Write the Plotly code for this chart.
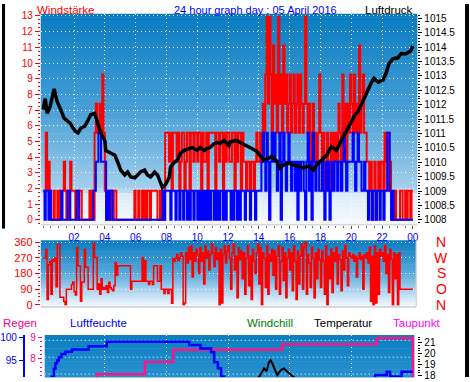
import plotly.graph_objects as go

W, H = 470, 382
FONT = "Liberation Sans"

# ---------------- data ----------------
# wind (knots) in 5-minute steps, one row per hour
GUST_KN = [
    [1, 1, 3, 1, 2, 1, 0, 0, 1, 0, 0, 1],
    [0, 1, 1, 1, 2, 1, 0, 1, 0, 2, 1, 1],
    [1, 0, 1, 0, 1, 1, 0, 0, 0, 0, 0, 0],
    [1, 0, 1, 0, 3, 4, 3, 3, 4, 3, 5, 3],
    [1, 0, 1, 1, 0, 1, 0, 1, 1, 0, 0, 0],
    [0, 0, 0, 0, 0, 0, 0, 0, 0, 0, 0, 1],
    [0, 0, 1, 0, 0, 1, 0, 1, 0, 1, 1, 0],
    [1, 1, 1, 1, 1, 0, 0, 1, 0, 1, 0, 3],
    [3, 3, 2, 3, 1, 3, 3, 3, 2, 3, 1, 2],
    [3, 3, 1, 2, 3, 3, 1, 3, 3, 2, 3, 3],
    [2, 3, 3, 1, 3, 2, 2, 3, 1, 3, 3, 3],
    [3, 3, 1, 3, 3, 2, 3, 3, 1, 3, 2, 3],
    [3, 2, 2, 3, 3, 1, 3, 2, 3, 3, 1, 3],
    [2, 2, 1, 2, 2, 1, 2, 2, 1, 2, 3, 2],
    [2, 3, 2, 4, 3, 5, 7, 4, 7, 5, 3, 6],
    [4, 5, 3, 7, 4, 5, 3, 6, 4, 5, 3, 4],
    [5, 3, 4, 5, 3, 4, 5, 3, 5, 4, 3, 4],
    [7, 4, 3, 4, 2, 3, 4, 2, 3, 2, 3, 5],
    [3, 2, 3, 1, 2, 3, 2, 1, 3, 2, 3, 2],
    [3, 2, 4, 3, 2, 5, 3, 4, 2, 4, 3, 5],
    [4, 3, 5, 3, 4, 3, 6, 3, 4, 5, 3, 3],
    [2, 2, 1, 2, 0, 1, 2, 0, 1, 2, 1, 2],
    [2, 1, 3, 2, 3, 1, 2, 1, 0, 0, 1, 0],
    [0, 0, 1, 1, 0, 0, 1, 0, 1, 1, 0, 1],
]
AVG_KN = [
    [1, 0, 1, 1, 0, 1, 0, 0, 0, 0, 0, 0],
    [0, 0, 1, 0, 0, 0, 0, 1, 1, 0, 0, 0],
    [0, 0, 1, 1, 0, 0, 0, 0, 0, 0, 0, 0],
    [0, 0, 0, 1, 1, 2, 2, 3, 3, 2, 2, 2],
    [2, 0, 1, 0, 1, 1, 0, 0, 0, 0, 0, 0],
    [0, 0, 0, 0, 0, 0, 0, 0, 0, 0, 0, 0],
    [0, 0, 0, 0, 0, 0, 0, 0, 0, 0, 0, 0],
    [0, 0, 0, 0, 0, 0, 0, 0, 0, 1, 0, 1],
    [1, 1, 1, 0, 1, 1, 1, 0, 1, 1, 0, 1],
    [1, 0, 1, 1, 0, 1, 0, 1, 1, 0, 1, 1],
    [0, 1, 0, 1, 0, 1, 0, 1, 0, 1, 0, 1],
    [1, 0, 1, 0, 1, 0, 1, 1, 0, 1, 0, 1],
    [1, 1, 0, 1, 0, 1, 1, 0, 1, 0, 1, 1],
    [1, 0, 1, 1, 1, 0, 1, 1, 1, 0, 1, 1],
    [1, 1, 2, 3, 2, 1, 3, 2, 0, 2, 3, 2],
    [3, 2, 1, 2, 3, 0, 2, 3, 2, 1, 2, 3],
    [2, 1, 2, 2, 1, 2, 0, 2, 1, 2, 2, 1],
    [0, 2, 3, 1, 2, 0, 3, 2, 1, 2, 2, 1],
    [1, 2, 1, 0, 2, 1, 2, 0, 1, 2, 1, 2],
    [2, 1, 2, 2, 1, 2, 3, 2, 1, 2, 2, 2],
    [2, 3, 2, 1, 2, 3, 2, 2, 1, 1, 2, 1],
    [1, 0, 1, 1, 0, 1, 1, 0, 1, 1, 0, 1],
    [1, 0, 1, 1, 3, 3, 1, 0, 1, 0, 0, 0],
    [0, 0, 0, 0, 0, 0, 0, 0, 0, 0, 0, 0],
]
DIR_DEG = [
    [270, 270, 320, 30, 230, 250, 60, 260, 250, 270, 103, 347],
    [347, 43, 43, 43, 19, 0, 90, 90, 90, 90, 116, 131],
    [75, 56, 330, 225, 225, 20, 131, 131, 320, 216, 216, 90],
    [90, 90, 90, 356, 272, 272, 90, 120, 60, 150, 90, 100],
    [90, 110, 70, 130, 100, 90, 80, 110, 244, 170, 225, 225],
    [225, 225, 225, 225, 225, 225, 225, 225, 90, 135, 135, 135],
    [135, 135, 135, 135, 135, 272, 135, 253, 135, 135, 116, 135],
    [135, 116, 225, 225, 225, 135, 135, 225, 90, 90, 65, 90],
    [90, 65, 90, 90, 9, 268, 250, 268, 290, 255, 270, 300],
    [280, 0, 10, 300, 240, 330, 260, 340, 160, 300, 250, 320],
    [290, 180, 330, 250, 300, 120, 340, 270, 310, 200, 290, 350],
    [300, 220, 330, 260, 300, 0, 320, 10, 290, 340, 240, 310],
    [340, 270, 90, 300, 350, 200, 280, 40, 330, 260, 310, 150],
    [300, 60, 270, 340, 110, 280, 30, 320, 250, 180, 300, 350],
    [120, 330, 0, 300, 270, 100, 340, 60, 290, 250, 320, 170],
    [310, 90, 280, 340, 60, 250, 330, 140, 300, 40, 270, 320],
    [200, 300, 80, 340, 250, 30, 310, 120, 280, 350, 90, 330],
    [360, 60, 290, 240, 100, 330, 270, 40, 300, 150, 320, 260],
    [100, 310, 250, 60, 340, 0, 280, 150, 320, 70, 300, 250],
    [330, 120, 290, 260, 80, 310, 200, 340, 270, 110, 300, 280],
    [270, 290, 250, 280, 160, 270, 300, 260, 280, 90, 290, 270],
    [300, 240, 330, 20, 280, 0, 340, 10, 300, 60, 320, 280],
    [300, 250, 340, 180, 290, 70, 320, 260, 0, 300, 150, 290],
    [0, 300, 90, 90, 90, 90, 90, 90, 90, 90, 90, 90],
]

PRESS_T = [0.0, 0.13, 0.26, 0.45, 0.71, 0.9, 1.1, 1.35, 1.74, 2.06, 2.26, 2.45, 2.71, 2.9, 3.1,
           3.35, 3.42, 3.55, 3.74, 4.0, 4.06, 4.32, 4.65, 4.84, 5.03, 5.29, 5.48, 5.68, 5.94,
           6.13, 6.32, 6.58, 6.77, 6.97, 7.23, 7.42, 7.61, 7.74, 7.94, 8.19, 8.26, 8.52, 8.71,
           8.9, 9.16, 9.48, 9.68, 10.0, 10.19, 10.45, 10.65, 10.84, 11.1, 11.29, 11.48, 11.74,
           12.06, 12.13, 12.58, 12.9, 13.23, 13.55, 13.87, 14.06, 14.32, 14.65, 14.84, 15.16,
           15.35, 15.61, 15.94, 16.26, 16.58, 16.9, 17.23, 17.55, 17.74, 18.06, 18.39, 18.71,
           19.03, 19.35, 19.68, 20.0, 20.19, 20.45, 20.65, 20.97, 21.29, 21.48, 21.74, 22.06,
           22.26, 22.45, 22.71, 23.03, 23.23, 23.55, 23.87, 24.0]
PRESS_HPA = [1011.83, 1012.21, 1011.70, 1011.94, 1012.55, 1012.11, 1011.87, 1011.53, 1011.36,
             1011.09, 1011.02, 1011.19, 1011.26, 1011.49, 1011.66, 1011.70, 1011.53, 1011.33,
             1011.02, 1010.75, 1010.41, 1010.34, 1010.24, 1010.00, 1009.73, 1009.56, 1009.66,
             1009.49, 1009.46, 1009.56, 1009.66, 1009.73, 1009.56, 1009.49, 1009.66, 1009.56,
             1009.32, 1009.12, 1009.22, 1009.49, 1009.83, 1010.00, 1010.07, 1010.31, 1010.41,
             1010.48, 1010.51, 1010.41, 1010.51, 1010.41, 1010.48, 1010.51, 1010.65, 1010.68,
             1010.65, 1010.75, 1010.58, 1010.71, 1010.75, 1010.65, 1010.58, 1010.48, 1010.38,
             1010.24, 1010.07, 1010.14, 1010.21, 1010.04, 1009.80, 1009.90, 1009.97, 1009.90,
             1009.87, 1009.80, 1009.87, 1009.73, 1009.90, 1010.07, 1010.24, 1010.54, 1010.41,
             1010.75, 1011.05, 1011.39, 1011.60, 1011.77, 1012.00, 1012.41, 1012.75, 1012.92,
             1012.78, 1012.85, 1013.09, 1013.43, 1013.60, 1013.63, 1013.77, 1013.77, 1013.87,
             1014.04]

HUM_T = [0.0, 0.54, 0.69, 0.79, 0.9, 1.01, 1.18, 1.44, 1.87, 2.95, 4.13, 9.48, 10.21, 10.9,
         11.1, 11.34, 11.55, 11.74, 12.5, 15.0, 18.0, 20.5, 21.55, 22.3, 22.52, 23.27, 24.0]
HUM_PCT = [88.0, 91.4, 93.2, 94.4, 95.0, 95.7, 96.4, 96.9, 97.4, 98.1, 99.1, 98.4, 97.6, 96.8,
           94.6, 93.3, 91.5, 89.0, 82.0, 72.0, 76.0, 86.0, 91.8, 92.5, 91.5, 92.5, 92.5]

RAIN_T = [0.0, 3.48, 6.6, 8.43, 15.53, 21.66, 24.0]
RAIN_MM = [6.5, 7.26, 7.84, 8.43, 8.69, 8.97, 0.0]

TEMP_T = [0.0, 4.0, 8.0, 11.0, 13.0, 14.02, 14.34, 14.5, 14.66, 14.77, 14.88, 15.1, 15.2,
          15.42, 15.63, 15.85, 16.06, 16.24, 17.0, 19.0, 22.0, 24.0]
TEMP_C = [11.0, 10.2, 11.5, 14.5, 16.8, 17.9, 18.65, 18.4, 19.24, 19.38, 19.1, 18.35, 18.06,
          18.5, 18.65, 18.35, 18.06, 17.9, 17.2, 15.5, 13.0, 12.0]

HOUR_TICKS = [2, 4, 6, 8, 10, 12, 14, 16, 18, 20, 22, 24]
HOUR_LABELS = ["02", "04", "06", "08", "10", "12", "14", "16", "18", "20", "22", "00"]
PRESS_TICKS = [1008, 1008.5, 1009, 1009.5, 1010, 1010.5, 1011, 1011.5, 1012, 1012.5,
               1013, 1013.5, 1014, 1014.5, 1015]
PRESS_LABELS = ["1008", "1008.5", "1009", "1009.5", "1010", "1010.5", "1011", "1011.5",
                "1012", "1012.5", "1013", "1013.5", "1014", "1014.5", "1015"]
DIR_TICKS = [0, 90, 180, 270, 360]
DIR_LETTERS = ["N", "O", "S", "W", "N"]

# ---------------- build series ----------------
def flat(rows):
    out = []
    for r in rows:
        out.extend(r)
    return out

gust = flat(GUST_KN)
avg = flat(AVG_KN)
dirs = flat(DIR_DEG)
STEP = 1 / 12
t5 = [k * STEP for k in range(len(gust) + 1)]
KMH = 1.852
gust_kmh = [v * KMH for v in gust] + [gust[-1] * KMH]
avg_kmh = [v * KMH for v in avg] + [avg[-1] * KMH]
dirs_full = dirs + [dirs[-1]]

def px(x):
    return x / W

def py(y):
    return 1 - y / H

fig = go.Figure()

fig.add_trace(go.Scatter(x=t5, y=gust_kmh, mode="lines", line=dict(color="#ff0000", width=2, shape="hv"),
                         xaxis="x", yaxis="y", hoverinfo="skip"))
fig.add_trace(go.Scatter(x=t5, y=avg_kmh, mode="lines", line=dict(color="#0000ff", width=2, shape="hv"),
                         xaxis="x", yaxis="y", hoverinfo="skip"))
fig.add_trace(go.Scatter(x=PRESS_T, y=PRESS_HPA, mode="lines", line=dict(color="#000000", width=3.5),
                         xaxis="x", yaxis="y2", hoverinfo="skip"))
fig.add_trace(go.Scatter(x=t5, y=dirs_full, mode="lines", line=dict(color="#ff0000", width=1.5, shape="hv"),
                         xaxis="x3", yaxis="y3", hoverinfo="skip"))
fig.add_trace(go.Scatter(x=HUM_T, y=HUM_PCT, mode="lines", line=dict(color="#0000ff", width=2.5, shape="hv"),
                         xaxis="x4", yaxis="y4", hoverinfo="skip"))
fig.add_trace(go.Scatter(x=RAIN_T, y=RAIN_MM, mode="lines", line=dict(color="#ff1483", width=2.5, shape="hv"),
                         xaxis="x4", yaxis="y5", hoverinfo="skip"))
fig.add_trace(go.Scatter(x=TEMP_T, y=TEMP_C, mode="lines", line=dict(color="#000000", width=2),
                         xaxis="x4", yaxis="y6", hoverinfo="skip"))

# ---------------- background gradients & decorations ----------------
shapes = []

def lerp(c1, c2, f):
    return tuple(int(round(a + (b - a) * f)) for a, b in zip(c1, c2))

def grad_color(stops, f):
    for i in range(len(stops) - 1):
        f0, c0 = stops[i]
        f1, c1 = stops[i + 1]
        if f0 <= f <= f1:
            return lerp(c0, c1, (f - f0) / (f1 - f0) if f1 > f0 else 0)
    return stops[-1][1]

def gradient(x0, x1, y0, y1, stops, n=48):
    h = (y1 - y0) / n
    for i in range(n):
        c = grad_color(stops, (i + 0.5) / n)
        shapes.append(dict(type="rect", xref="paper", yref="paper", layer="below",
                           x0=px(x0), x1=px(x1), y0=py(y0 + i * h), y1=py(y0 + (i + 1) * h + 0.6),
                           fillcolor="rgb(%d,%d,%d)" % c, line=dict(width=0)))

STOPS = [(0.0, (8, 124, 192)), (0.45, (70, 158, 214)), (0.83, (165, 208, 236)),
         (0.86, (222, 237, 249)), (1.0, (246, 250, 255))]
STOPS_DIR = [(0.0, (8, 124, 192)), (0.5, (90, 168, 220)), (1.0, (242, 248, 255))]
STOPS_BOT = [(0.0, (10, 126, 193)), (1.0, (40, 144, 206))]
gradient(39, 418, 10, 226, STOPS, 60)
gradient(39, 417, 242, 309, STOPS_DIR, 30)
gradient(43, 415, 339, 382, STOPS_BOT, 16)

# bottom panel horizontal dotted grid
for gy in [344.5, 361.8, 379.0]:
    shapes.append(dict(type="line", xref="paper", yref="paper", layer="below",
                       x0=px(43), x1=px(415), y0=py(gy), y1=py(gy),
                       line=dict(color="white", width=1, dash="1px,3px")))

# light borders
shapes.append(dict(type="line", xref="paper", yref="paper", x0=px(417), x1=px(417), y0=py(242), y1=py(310),
                   line=dict(color="#d8d8d8", width=1.5)))
shapes.append(dict(type="line", xref="paper", yref="paper", x0=px(39), x1=px(418), y0=py(226), y1=py(226),
                   line=dict(color="#d8d8d8", width=1.5)))
# black frame strips
shapes.append(dict(type="rect", xref="paper", yref="paper", x0=0, x1=px(3), y0=py(230), y1=1,
                   fillcolor="black", line=dict(width=0)))
shapes.append(dict(type="rect", xref="paper", yref="paper", x0=px(466), x1=1, y0=0, y1=1,
                   fillcolor="black", line=dict(width=0)))

# ---------------- texts ----------------
ann = []

def text(s, x, y, color, size=11, anchor="left"):
    ann.append(dict(text=s, x=px(x), y=py(y), xref="paper", yref="paper", xanchor=anchor,
                    yanchor="middle", showarrow=False, font=dict(family=FONT, size=size, color=color)))

text("Windstärke", 33, 6, "#ff0000", 11.5)
text("24 hour graph day : 05 April 2016", 171, 6, "#0000ff", 11)
text("Luftdruck", 416, 6, "#000000", 11.5, "right")
text("Regen", -1, 327, "#ff0080", 11.5)
text("Luftfeuchte", 66, 327, "#0000ff", 11.5)
text("Windchill", 245, 327, "#008000", 11.5)
text("Temperatur", 312, 327, "#000000", 11.5)
text("Taupunkt", 391, 327, "#ff00ff", 11.5)
for v, s in zip(DIR_TICKS, DIR_LETTERS):
    ann.append(dict(text=s, x=px(442), xref="paper", y=v, yref="y3", xanchor="center", yanchor="middle",
                    showarrow=False, font=dict(family=FONT, size=14, color="#ff0000")))

GRID = dict(showgrid=True, gridcolor="rgba(255,255,255,0.95)", gridwidth=1, griddash="1px,3px")
TF = lambda c, s=10: dict(family=FONT, size=s, color=c)

x_rng_top = [(39 - 41.5) / 15.5, (418 - 41.5) / 15.5]
fig.update_layout(
    width=W, height=H, margin=dict(l=0, r=0, t=0, b=0), showlegend=False,
    paper_bgcolor="white", plot_bgcolor="rgba(0,0,0,0)",
    shapes=shapes, annotations=ann,
    xaxis=dict(domain=[px(39), px(418)], range=x_rng_top, anchor="y", tickvals=HOUR_TICKS,
               ticktext=HOUR_LABELS, tickfont=TF("#0000ff"), ticks="outside", ticklen=3,
               tickcolor="#505050", zeroline=False, showline=False,
               minor=dict(dtick=0.5, tick0=0, ticks="outside", ticklen=2, tickcolor="#707070", showgrid=False),
               **GRID),
    yaxis=dict(domain=[py(226), py(10)], range=[-0.31, 13.14], anchor="x", tickvals=list(range(14)),
               tickfont=TF("#ff0000"), ticks="outside", ticklen=5, tickcolor="#ff0000", zeroline=False,
               minor=dict(dtick=0.25, tick0=0, ticks="outside", ticklen=2, tickcolor="#ff0000", showgrid=False),
               **GRID),
    yaxis2=dict(overlaying="y", side="right", anchor="x", range=[1007.83, 1015.16], tickvals=PRESS_TICKS,
                ticktext=PRESS_LABELS, tickfont=TF("#000000"), ticks="outside", ticklen=4,
                tickcolor="#000000", showgrid=False, zeroline=False,
                minor=dict(dtick=0.1, tick0=1008, ticks="outside", ticklen=2, tickcolor="#000000")),
    xaxis3=dict(domain=[px(39), px(417)], range=[(39 - 41.5) / 15.5, (417 - 41.5) / 15.5], anchor="y3",
                showticklabels=False, ticks="", showgrid=False, zeroline=False,
                showline=True, linecolor="#d8d8d8", linewidth=1.5),
    yaxis3=dict(domain=[py(309), py(242)], range=[-5.6, 371.25], anchor="x3", tickvals=DIR_TICKS,
                tickfont=TF("#ff0000", 11), ticks="outside", ticklen=5, tickcolor="#ff0000",
                zeroline=False,
                minor=dict(dtick=22.5, tick0=0, ticks="outside", ticklen=2, tickcolor="#ff0000", showgrid=False),
                **GRID),
    xaxis4=dict(domain=[px(43), px(415)], range=[(43 - 41.5) / 15.5, (415 - 41.5) / 15.5], anchor="y5",
                showticklabels=False, ticks="", tickvals=[4, 8, 12, 16, 20], zeroline=False, **GRID),
    yaxis5=dict(domain=[0, py(339)], range=[7.134, 9.125], anchor="free", position=px(40), side="left",
                tickvals=[7, 8, 9], tickfont=TF("#ff0080"), ticks="outside", ticklen=4, tickcolor="#ff0080",
                showgrid=False, zeroline=False,
                minor=dict(dtick=0.2, ticks="outside", ticklen=2, tickcolor="#ff0080")),
    yaxis4=dict(overlaying="y5", range=[91.37, 100.58], anchor="free", position=px(22), side="left",
                tickvals=[90, 95, 100], tickfont=TF("#0000ff"), ticks="outside", ticklen=4,
                tickcolor="#0000ff", showline=True, linecolor="#0000ff", linewidth=2,
                showgrid=False, zeroline=False),
    yaxis6=dict(overlaying="y5", range=[17.88, 21.68], anchor="free", position=px(418), side="right",
                tickvals=[18, 19, 20, 21], tickfont=TF("#000000"), ticks="outside", ticklen=4,
                tickcolor="#000000", showgrid=False, zeroline=False,
                minor=dict(dtick=0.25, ticks="outside", ticklen=2, tickcolor="#000000")),
)

fig.write_html("out.html")
